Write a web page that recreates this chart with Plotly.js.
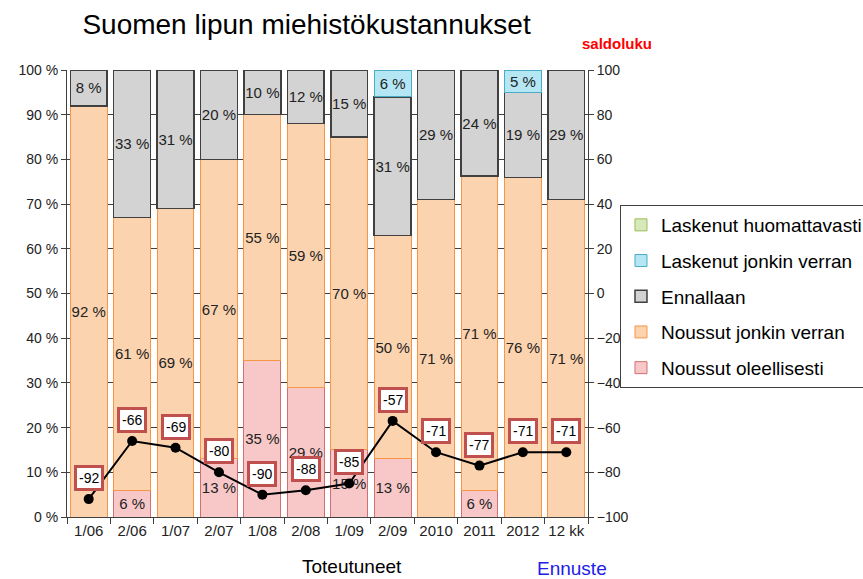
<!DOCTYPE html>
<html>
<head>
<meta charset="utf-8">
<script src="https://cdn.plot.ly/plotly-3.0.1.min.js"></script>
<style>html,body{margin:0;padding:0;background:#fff;}#chart{width:863px;height:579px;}</style>
</head>
<body>
<div id="chart"></div>
<script>
const categories = ['1/06','2/06','1/07','2/07','1/08','2/08','1/09','2/09','2010','2011','2012','12 kk'];
const noussutOleellisesti = [0, 6, 0, 13, 35, 29, 15, 13, 0, 6, 0, 0];
const noussutJonkin = [92, 61, 69, 67, 55, 59, 70, 50, 71, 71, 76, 71];
const ennallaan = [8, 33, 31, 20, 10, 12, 15, 31, 29, 24, 19, 29];
const laskenutJonkin = [0, 0, 0, 0, 0, 0, 0, 6, 0, 0, 5, 0];
const laskenutHuomattavasti = [0, 0, 0, 0, 0, 0, 0, 0, 0, 0, 0, 0];
const saldoluku = [-92, -66, -69, -80, -90, -88, -85, -57, -71, -77, -71, -71];

const FONT = '"Liberation Sans", Arial, sans-serif';

function pctText(arr) { return arr.map(v => v ? v + ' %' : ''); }

function barTrace(name, vals, fill, border, bw, rank) {
  return {
    type: 'bar', name: name, x: categories, y: vals.map(v => v || null),
    legendgroup: name, legendrank: rank,
    marker: {color: fill, line: {color: border, width: bw}},
    text: pctText(vals), textposition: 'inside', insidetextanchor: 'middle',
    constraintext: 'none', textangle: 0,
    textfont: {family: FONT, size: 15, color: '#222'},
    hoverinfo: 'skip'
  };
}

const traces = [
  barTrace('Noussut oleellisesti', noussutOleellisesti, '#F8C8C8', '#D07070', 1, 5),
  barTrace('Noussut jonkin verran', noussutJonkin, '#FCD3AF', '#F79646', 1, 4),
  barTrace('Ennallaan', ennallaan, '#D3D3D3', '#404040', 1.5, 3),
  barTrace('Laskenut jonkin verran', laskenutJonkin, '#B4E6F4', '#4BACC6', 1, 2),
  barTrace('Laskenut huomattavasti', laskenutHuomattavasti, '#D7E9B9', '#9BBB59', 1, 1),
  {
    type: 'scatter', mode: 'lines+markers', x: categories, y: saldoluku, yaxis: 'y2',
    line: {color: '#000', width: 2}, marker: {color: '#000', size: 10},
    showlegend: false, hoverinfo: 'skip', cliponaxis: false
  }
];

const annotations = saldoluku.map((v, i) => ({
  x: i, y: v, xref: 'x', yref: 'y2', yshift: 21,
  text: String(v), showarrow: false,
  font: {family: FONT, size: 14, color: '#000'},
  bgcolor: '#fff', bordercolor: '#C0504D', borderwidth: 3, borderpad: 2
}));
annotations.push(
  {xref: 'paper', yref: 'paper', x: 1.0557, y: 1.0604, xanchor: 'center', yanchor: 'middle',
   text: '<b>saldoluku</b>', showarrow: false,
   font: {family: FONT, size: 15, color: '#FF0000'}},
  {xref: 'paper', yref: 'paper', x: 0.547, y: -0.11, xanchor: 'center', yanchor: 'middle',
   text: 'Toteutuneet', showarrow: false,
   font: {family: FONT, size: 19, color: '#000'}},
  {xref: 'paper', yref: 'paper', x: 0.969, y: -0.116, xanchor: 'center', yanchor: 'middle',
   text: 'Ennuste', showarrow: false,
   font: {family: FONT, size: 19, color: '#2020E8'}}
);

const layout = {
  width: 863, height: 579,
  paper_bgcolor: '#fff', plot_bgcolor: '#fff',
  margin: {l: 67, r: 275, t: 70, b: 62, autoexpand: false},
  barmode: 'stack', barnorm: 'percent', bargap: 0.15,
  title: {text: 'Suomen lipun miehistökustannukset', xref: 'container', yref: 'container',
          x: 0.0955, xanchor: 'left', y: 0.958, yanchor: 'middle',
          font: {family: FONT, size: 28, color: '#000'}},
  xaxis: {type: 'category', range: [-0.5, 11.5], tickson: 'boundaries', ticks: 'outside',
          ticklen: 6, tickcolor: '#404040', showline: true, linecolor: '#404040', linewidth: 1,
          tickangle: 0, showgrid: false, tickfont: {family: FONT, size: 15, color: '#222'},
          fixedrange: true},
  yaxis: {range: [0, 100], dtick: 10, ticksuffix: ' %', ticks: 'outside', ticklen: 5,
          tickcolor: '#404040', showline: true, linecolor: '#404040', showgrid: true,
          gridcolor: '#404040', gridwidth: 1, zeroline: false,
          tickfont: {family: FONT, size: 14, color: '#222'}, fixedrange: true},
  yaxis2: {overlaying: 'y', side: 'right', range: [-100, 100], dtick: 20, ticks: 'outside',
           ticklen: 5, tickcolor: '#404040', showline: true, linecolor: '#404040',
           showgrid: false, zeroline: false,
           tickfont: {family: FONT, size: 14, color: '#222'}, fixedrange: true},
  legend: {x: 1.0614, xanchor: 'left', y: 0.698, yanchor: 'top', xref: 'paper', yref: 'paper',
           traceorder: 'grouped', tracegroupgap: 8,
           bordercolor: '#404040', borderwidth: 1, bgcolor: '#fff',
           font: {family: FONT, size: 19, color: '#000'}},
  annotations: annotations,
  showlegend: true
};

Plotly.newPlot('chart', traces, layout, {displayModeBar: false, staticPlot: true});
</script>
</body>
</html>
